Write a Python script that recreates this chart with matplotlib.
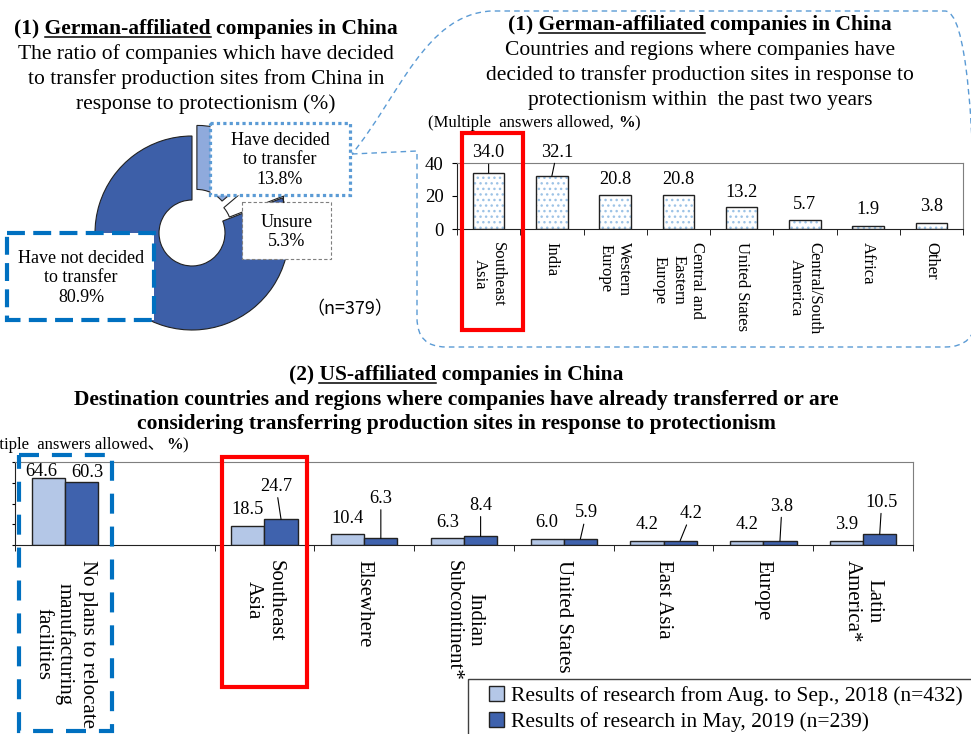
import numpy as np
import matplotlib
matplotlib.use('Agg')
import matplotlib.pyplot as plt
from matplotlib.patches import Rectangle, PathPatch
from matplotlib.path import Path

W, H = 971, 734

# (1) German-affiliated companies: donut
pie_labels = ['Have decided\nto transfer', 'Unsure', 'Have not decided\nto transfer']
pie_vals = [13.8, 5.3, 80.9]

# (1) German-affiliated companies: destinations
de_cats = ['Southeast\nAsia', 'India', 'Western\nEurope', 'Central and\nEastern\nEurope',
           'United States', 'Central/South\nAmerica', 'Africa', 'Other']
de_vals = [34.0, 32.1, 20.8, 20.8, 13.2, 5.7, 1.9, 3.8]

# (2) US-affiliated companies ('' is the empty gap slot in the original chart)
us_cats = ['No plans to relocate\nmanufacturing\nfacilities', '', 'Southeast\nAsia', 'Elsewhere',
           'Indian\nSubcontinent*', 'United States', 'East Asia', 'Europe', 'Latin\nAmerica*']
us_2018 = [64.6, None, 18.5, 10.4, 6.3, 6.0, 4.2, 4.2, 3.9]
us_2019 = [60.3, None, 24.7, 6.3, 8.4, 5.9, 4.2, 3.8, 10.5]
us_series = ['Results of research from Aug. to Sep., 2018 (n=432)',
             'Results of research in May, 2019 (n=239)']

# label offsets (pixels) relative to bar tops
de_off = [(0, 20), (5, 24), (0, 15), (0, 15), (0, 15), (0, 15), (0, 16), (0, 16)]
de_lead = [True, True, False, False, False, False, False, False]
off_2018 = [(-7, 6), None, (0, 16), (0, 16), (0, 16), (0, 16), (0, 16), (0, 16), (0, 16)]
off_2019 = [(6, 10), None, (-5, 33), (0, 40), (0, 31), (6, 26), (11, 27), (2, 35), (2, 32)]

LIGHT = '#b4c7e7'
DARK = '#3f62ad'
SERIF = ['Liberation Serif', 'Noto Sans CJK JP', 'DejaVu Sans']
plt.rcParams['font.family'] = SERIF


def fbox(x0, y0, x1, y1):
    return [x0 / W, 1 - y1 / H, (x1 - x0) / W, (y1 - y0) / H]


fig = plt.figure(figsize=(W / 100, H / 100), dpi=100)

# ---- donut
ax0 = fig.add_axes(fbox(42, 83, 342, 383))
ax0.pie(pie_vals, colors=['#8faadc', 'white', '#3d5fa8'], startangle=90, counterclock=False,
        explode=[0.12, 0.08, 0.0], radius=1.0,
        wedgeprops=dict(width=0.66, edgecolor='#222222', linewidth=0.8))
lim = 150 / 97
ax0.set_xlim(-lim, lim)
ax0.set_ylim(-lim, lim)

# ---- German destinations bar chart
ax1 = fig.add_axes(fbox(457, 163, 963, 229))
x1 = np.arange(len(de_cats))
ax1.bar(x1, de_vals, width=0.5, color='white', edgecolor='#9dc3e6', hatch='...', lw=0)
ax1.bar(x1, de_vals, width=0.5, fill=False, edgecolor='#222222', lw=1)
ax1.set_xlim(-0.5, len(de_cats) - 0.5)
ax1.set_ylim(0, 40)
ax1.set_yticks([0, 20, 40])
ax1.tick_params(axis='y', labelsize=13.5, length=3.6, pad=6, direction='out')
ax1.set_xticks(x1)
ax1.set_xticklabels(de_cats, rotation=270, va='top', ha='center', multialignment='center', fontsize=12)
ax1.set_xticks(np.arange(-0.5, len(de_cats), 1), minor=True)
ax1.tick_params(axis='x', which='major', length=0, pad=9)
ax1.tick_params(axis='x', which='minor', length=4.5, direction='out')
for i, v in enumerate(de_vals):
    dx, dy = de_off[i]
    ap = dict(arrowstyle='-', color='black', lw=0.8, shrinkA=0, shrinkB=0) if de_lead[i] else None
    ax1.annotate(f'{v:.1f}', xy=(i, v), xytext=(dx, dy), textcoords='offset pixels',
                 ha='center', va='center', fontsize=13.2, annotation_clip=False, arrowprops=ap)

# ---- US destinations grouped bar chart
ax2 = fig.add_axes(fbox(15, 462, 913, 545))
idx = [i for i, v in enumerate(us_2018) if v is not None]
bw = 0.333
b18 = ax2.bar([i - bw / 2 for i in idx], [us_2018[i] for i in idx], width=bw, color=LIGHT,
              edgecolor='#222222', lw=1, label=us_series[0])
b19 = ax2.bar([i + bw / 2 for i in idx], [us_2019[i] for i in idx], width=bw, color=DARK,
              edgecolor='#222222', lw=1, label=us_series[1])
ax2.set_xlim(-0.5, len(us_cats) - 0.5)
ax2.set_ylim(0, 80)
ax2.set_yticks([0, 20, 40, 60, 80])
ax2.set_yticklabels([])
ax2.tick_params(axis='y', length=2.5, direction='out')
ax2.set_xticks(np.arange(len(us_cats)))
ax2.set_xticklabels(us_cats, rotation=270, va='top', ha='center', multialignment='center', fontsize=15)
# boundary ticks (the one beside the empty slot is hidden in the original)
ax2.set_xticks([b for b in np.arange(-0.5, len(us_cats), 1) if b != 0.5], minor=True)
ax2.tick_params(axis='x', which='major', length=0, pad=10.5)
ax2.tick_params(axis='x', which='minor', length=4.5, direction='out')
for i in idx:
    dx, dy = off_2018[i]
    ax2.annotate(f'{us_2018[i]:.1f}', xy=(i - bw / 2, us_2018[i]), xytext=(dx, dy),
                 textcoords='offset pixels', ha='center', va='center', fontsize=13.2,
                 annotation_clip=False)
    dx, dy = off_2019[i]
    ap = None if i == 0 else dict(arrowstyle='-', color='black', lw=0.8, shrinkA=0, shrinkB=0)
    ax2.annotate(f'{us_2019[i]:.1f}', xy=(i + bw / 2, us_2019[i]), xytext=(dx, dy),
                 textcoords='offset pixels', ha='center', va='center', fontsize=13.2,
                 annotation_clip=False, arrowprops=ap)
ax2.legend(handles=[b18, b19], loc='upper left', bbox_to_anchor=(484 / W, 1 - 681 / H),
           bbox_transform=fig.transFigure, fontsize=15.5, frameon=False,
           borderaxespad=0, borderpad=0.25, handlelength=0.7,
           handleheight=0.7, handletextpad=0.3, labelspacing=0.25)

for ax in (ax1, ax2):
    for s in ('top', 'right'):
        ax.spines[s].set_color('#7f7f7f')
    for s in ('left', 'bottom'):
        ax.spines[s].set_color('#222222')

# ---- overlay in pixel coordinates: titles, boxes, callout
ov = fig.add_axes([0, 0, 1, 1])
ov.set_xlim(0, W)
ov.set_ylim(H, 0)
ov.axis('off')
renderer = fig.canvas.get_renderer()


def measure(s, **kw):
    t = ov.text(0, 0, s, **kw)
    w = t.get_window_extent(renderer).width
    t.remove()
    return w


def title_line(x, y, s, under=None, **kw):
    t = ov.text(x, y, s, ha='center', va='baseline', **kw)
    if under:
        bb = t.get_window_extent(renderer)
        pre = s[:s.index(under) + len(under)]
        xe = bb.x0 + measure(pre, **kw)
        xs = xe - measure(under, **kw)
        ov.plot([xs, xe], [y + 2.5, y + 2.5], color='black', lw=1.1)


TF = 15.5
title_line(206, 34, '(1) German-affiliated companies in China', 'German-affiliated', fontsize=TF, weight='bold')
for k, s in enumerate(['The ratio of companies which have decided',
                       'to transfer production sites from China in',
                       'response to protectionism (%)']):
    title_line(206, 59 + 25 * k, s, fontsize=TF)

title_line(700, 30, '(1) German-affiliated companies in China', 'German-affiliated', fontsize=TF, weight='bold')
for k, s in enumerate(['Countries and regions where companies have',
                       'decided to transfer production sites in response to',
                       'protectionism within  the past two years']):
    title_line(700, 55 + 25 * k, s, fontsize=TF)

title_line(456, 380, '(2) US-affiliated companies in China', 'US-affiliated', fontsize=TF, weight='bold')
title_line(456, 405, 'Destination countries and regions where companies have already transferred or are',
           fontsize=TF, weight='bold')
title_line(456, 429, 'considering transferring production sites in response to protectionism',
           fontsize=TF, weight='bold')

# "(Multiple answers allowed, %)" notes
MF = 12
p1 = '(Multiple  answers allowed,'
ov.text(428, 123, p1, fontsize=MF, va='center', ha='left')
xp = 428 + measure(p1, fontsize=MF) + 4
ov.text(xp, 123, '%', fontsize=MF, weight='bold', va='center', ha='left')
ov.text(xp + measure('%', fontsize=MF, weight='bold'), 123, ')', fontsize=MF, va='center', ha='left')

ov.text(188, 445, ')', fontsize=MF, va='center', ha='right')
xp = 188 - measure(')', fontsize=MF)
ov.text(xp, 445, '%', fontsize=MF, weight='bold', va='center', ha='right')
xp -= measure('%', fontsize=MF, weight='bold') + 1
ov.text(xp, 445, '(Multiple  answers allowed\u3001', fontsize=MF, va='center', ha='right')

# donut label boxes
ov.add_patch(Rectangle((210, 123), 140, 72, facecolor='white', edgecolor='#5b9bd5', lw=2.3,
                       linestyle=(0, (1, 1))))
ov.text(280, 160, f'{pie_labels[0]}\n{pie_vals[0]:.1f}%', fontsize=13, ha='center', va='center',
        linespacing=1.2)
ov.plot([283, 283], [196, 202], color='#222222', lw=0.8)
ov.add_patch(Rectangle((242, 202), 89, 57, facecolor='white', edgecolor='#7f7f7f', lw=0.8,
                       linestyle=(0, (3, 2))))
ov.text(287, 232, f'{pie_labels[1]}\n{pie_vals[1]:.1f}%', fontsize=13, ha='center', va='center',
        linespacing=1.2)
ov.add_patch(Rectangle((7, 233), 147, 87, facecolor='white', edgecolor='#0070c0', lw=3,
                       linestyle=(0, (4.3, 2))))
ov.text(81, 278, f'{pie_labels[2]}\n{pie_vals[2]:.1f}%', fontsize=13, ha='center', va='center',
        linespacing=1.2)
ov.text(350, 309, '\uff08n=379\uff09', fontsize=13, family='Noto Sans CJK JP', ha='center', va='center')

# callout outline linking the donut to the destinations chart
verts = [(352, 154), (417, 151), (417, 318), (417, 347), (446, 347), (945, 347), (976, 347),
         (976, 316), (976, 40), (976, 11), (945, 11), (491, 11), (425, 15), (400, 95), (352, 154)]
codes = [Path.MOVETO, Path.LINETO, Path.LINETO, Path.CURVE3, Path.CURVE3, Path.LINETO,
         Path.CURVE3, Path.CURVE3, Path.LINETO, Path.CURVE3, Path.CURVE3, Path.LINETO,
         Path.CURVE4, Path.CURVE4, Path.CURVE4]
ov.add_patch(PathPatch(Path(verts, codes), facecolor='none', edgecolor='#5b9bd5', lw=1,
                       linestyle=(0, (4, 3))))

# legend frame (runs past the right edge, as in the original)
ov.add_patch(Rectangle((468, 679), 520, 70, fill=False, edgecolor='#404040', lw=1))

# highlight boxes
ov.add_patch(Rectangle((462, 133), 61, 197, fill=False, edgecolor='#ff0000', lw=3))
ov.add_patch(Rectangle((222, 457), 85, 230, fill=False, edgecolor='#ff0000', lw=3))
ov.add_patch(Rectangle((19, 455), 93, 276, fill=False, edgecolor='#0070c0', lw=3,
                       linestyle=(0, (4.8, 3.1))))

fig.savefig('out.png', dpi=100)
